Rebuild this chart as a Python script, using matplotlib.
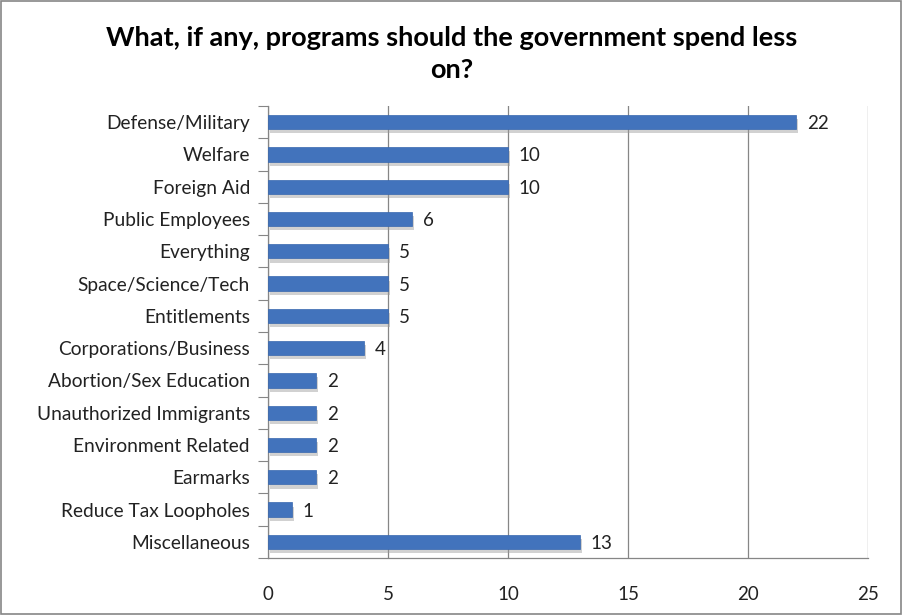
import matplotlib
matplotlib.use("Agg")
import matplotlib.pyplot as plt
import matplotlib.patheffects as pe
from matplotlib.patches import Rectangle

categories = ["Defense/Military", "Welfare", "Foreign Aid", "Public Employees", "Everything",
              "Space/Science/Tech", "Entitlements", "Corporations/Business",
              "Abortion/Sex Education", "Unauthorized Immigrants", "Environment Related",
              "Earmarks", "Reduce Tax Loopholes", "Miscellaneous"]
values = [22, 10, 10, 6, 5, 5, 5, 4, 2, 2, 2, 2, 1, 13]
xticks = [0, 5, 10, 15, 20, 25]
title = "What, if any, programs should the government spend less\non?"

plt.rcParams['font.family'] = ['Lato', 'DejaVu Sans']

fig = plt.figure(figsize=(9.03, 6.15), dpi=100)
ax = fig.add_axes([268/903, 1-558/615, 600/903, 452/615])

n = len(categories)
ypos = list(range(n))
bars = ax.barh(ypos, values, height=0.44, color="#4273BC", edgecolor="#3767AF", linewidth=0.5, zorder=3)
for b in bars:
    b.set_path_effects([pe.SimplePatchShadow(offset=(1.5, -3), shadow_rgbFace="#9a9a9a", alpha=0.45), pe.Normal()])

for y, v in zip(ypos, values):
    ax.text(v + 0.45, y, str(v), va="center_baseline", ha="left", fontsize=13.5, color="#222222")

ax.set_ylim(n - 0.5, -0.5)
ax.set_xlim(0, 25)
ax.set_yticks([i - 0.5 for i in range(n + 1)], minor=False)
ax.set_yticklabels([])
ax.set_yticks(ypos, minor=True)
ax.set_yticklabels(categories, minor=True, fontsize=13.8, color="#222222")
ax.tick_params(axis='y', which='major', length=7, color="#868686", direction='out')
ax.tick_params(axis='y', which='minor', length=0, pad=13)
ax.set_xticks(xticks)
ax.set_xticklabels([str(t) for t in xticks], fontsize=13.5, color="#222222")
ax.tick_params(axis='x', length=0, pad=20)
ax.grid(axis='x', color="#868686", linewidth=0.9, zorder=0)
for s in ["top", "right"]:
    ax.spines[s].set_visible(False)
for s in ["left", "bottom"]:
    ax.spines[s].set_color("#868686")
    ax.spines[s].set_linewidth(0.9)

fig.text(0.5, 1 - 54/615, title, ha="center", va="center", fontsize=19.5, fontweight="bold", linespacing=1.45)

fig.add_artist(Rectangle((0.001, 0.001), 0.997, 0.997, transform=fig.transFigure,
                         fill=False, edgecolor="#868686", linewidth=1.2))

fig.savefig("out.png", dpi=100)
